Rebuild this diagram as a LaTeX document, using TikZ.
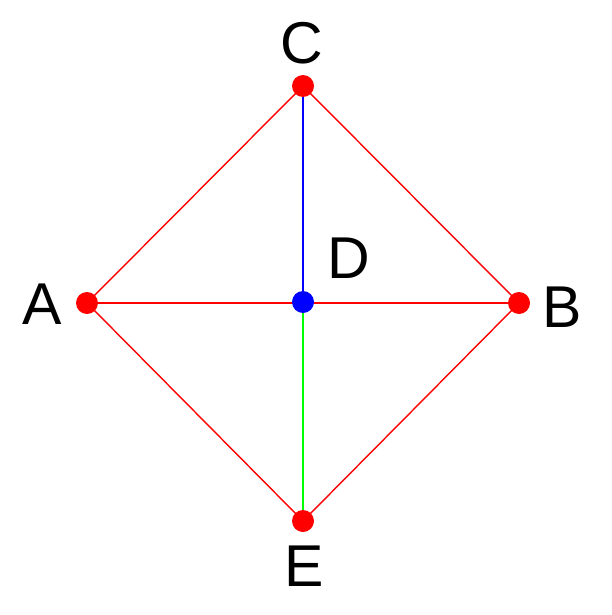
\documentclass[tikz,border=0pt]{standalone}
\usepackage{fontspec}
\setmainfont{Liberation Sans}
\usetikzlibrary{backgrounds}
\definecolor{ptRed}{HTML}{FF0000}
\definecolor{ptBlue}{HTML}{0000FF}
\definecolor{ptGreen}{HTML}{00FF00}
\tikzset{
  ptdot/.style={circle, fill=#1, inner sep=0pt, minimum size=22pt},
  ptlabel/.style={inner sep=0pt, font=\fontsize{59}{62}\selectfont},
  edge/.style={line width=1.4pt, #1}
}

\begin{document}
\begin{tikzpicture}[x=1pt, y=-1pt]
\useasboundingbox (0,0) rectangle (611,615);

% Points
\node[ptdot=ptRed] (A) at (87,303) {};
\node[ptdot=ptRed] (B) at (519,303) {};
\node[ptdot=ptRed] (C) at (303,86) {};
\node[ptdot=ptBlue] (D) at (303,302) {};
\node[ptdot=ptRed] (E) at (303,521) {};

% Labels
\node[ptlabel] (lA) at (42,304) {A};
\node[ptlabel] (lB) at (562,307) {B};
\node[ptlabel] (lC) at (302,43) {C};
\node[ptlabel] (lD) at (349,258) {D};
\node[ptlabel] (lE) at (304,566) {E};

% Edges
\begin{scope}[on background layer]
\draw[edge=ptRed] (A.center) -- (C.center) -- (B.center) -- (E.center) -- cycle;
\draw[edge=ptRed] (A.center) -- (B.center);
\draw[edge=ptBlue] (C.center) -- (D.center);
\draw[edge=ptGreen] (D.center) -- (E.center);
\end{scope}

\end{tikzpicture}
\end{document}
